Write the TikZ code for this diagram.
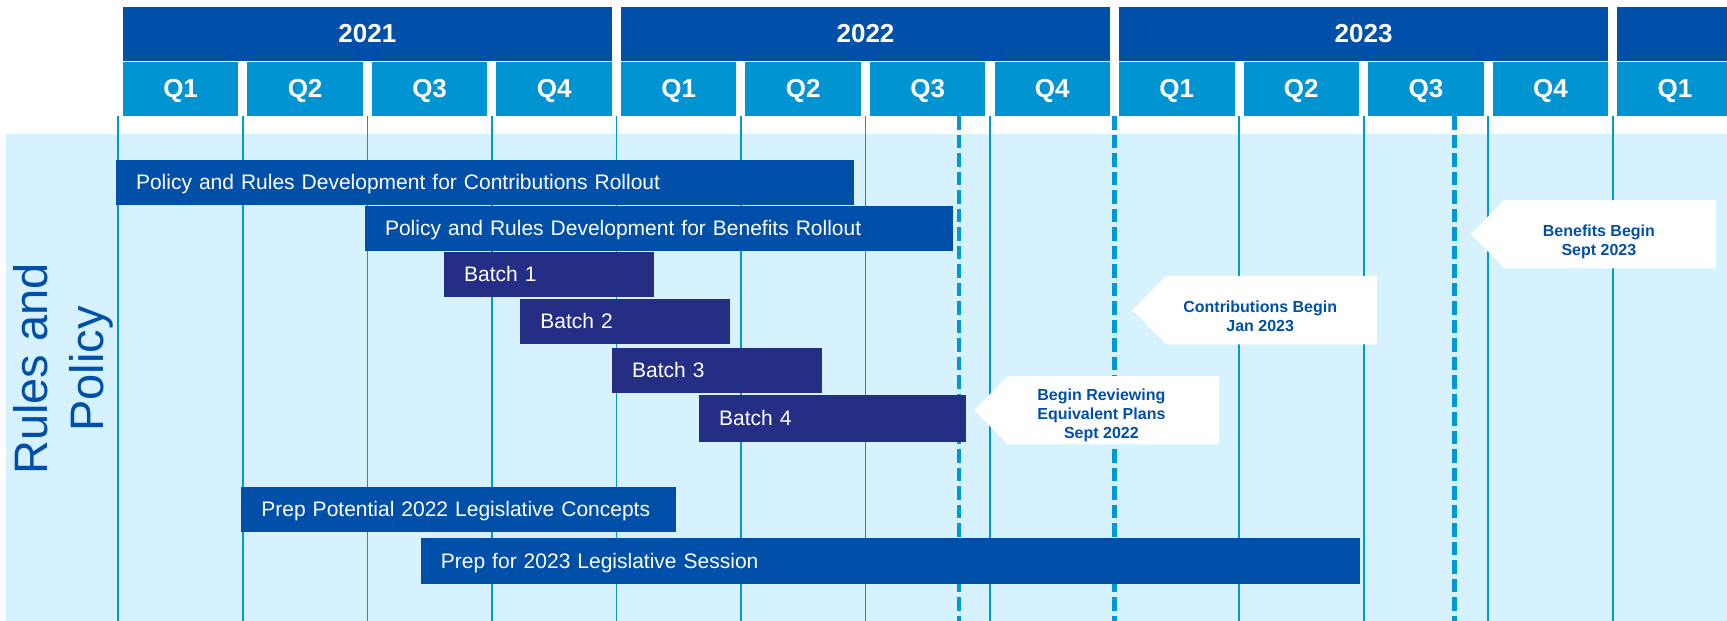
\documentclass[tikz,border=0pt]{standalone}
\usepackage{fontspec}
\setmainfont{Liberation Sans}
\definecolor{yearblue}{RGB}{0,79,168}
\definecolor{qblue}{RGB}{0,148,210}
\definecolor{bandblue}{RGB}{214,242,254}
\definecolor{gridblue}{RGB}{0,152,214}
\definecolor{batchblue}{RGB}{36,46,132}
\begin{document}
\begin{tikzpicture}[x=1pt, y=-1pt,
    yearstyle/.style={rectangle, fill=yearblue, text=white, font=\bfseries\fontsize{26}{30}\selectfont, minimum width=489pt, minimum height=54pt, inner sep=0pt},
    quarterstyle/.style={rectangle, fill=qblue, text=white, font=\bfseries\fontsize{26}{30}\selectfont, minimum width=115.5pt, minimum height=53.7pt, inner sep=0pt, text depth=0pt},
    barstyle/.style={rectangle, fill=yearblue, text=white, font=\fontsize{21}{25}\selectfont, anchor=west, align=left, inner xsep=20pt, inner ysep=0pt, text height=15pt, text depth=0pt, minimum height=44.7pt},
    batchstyle/.style={barstyle, fill=batchblue},
    notestyle/.style={text=yearblue, font=\bfseries\fontsize{16}{19}\selectfont, align=center, inner sep=0pt},
    gridline/.style={gridblue, line width=1.8pt},
    dateline/.style={gridblue, line width=4.5pt, dash pattern=on 13.5pt off 5pt}
]
    \useasboundingbox (0,0) rectangle (1727,621);
    \clip (0,0) rectangle (1727,621);

    \fill[bandblue] (6,134) rectangle (1727,621);

    \draw[gridline] (118.3,115.7) -- (118.3,621) (242.8,115.7) -- (242.8,621)
        (367.4,115.7) -- (367.4,621) (491.9,115.7) -- (491.9,621)
        (616.4,115.7) -- (616.4,621) (741,115.7) -- (741,621)
        (865.5,115.7) -- (865.5,621) (990,115.7) -- (990,621)
        (1239.1,115.7) -- (1239.1,621) (1363.6,115.7) -- (1363.6,621)
        (1488.1,115.7) -- (1488.1,621) (1612.7,115.7) -- (1612.7,621);
    \draw[dateline] (959,116) -- (959,621) (1114.5,116) -- (1114.5,621) (1454.5,116) -- (1454.5,621);

    \node[yearstyle] (yr2021) at (367.4,33.7) {2021};
    \node[yearstyle] (yr2022) at (865.5,33.7) {2022};
    \node[yearstyle] (yr2023) at (1363.6,33.7) {2023};
    \node[yearstyle] (yr2024) at (1861.7,33.7) {};

    \node[quarterstyle] (q1) at (180.6,88.9) {Q1};
    \node[quarterstyle] (q2) at (305.1,88.9) {Q2};
    \node[quarterstyle] (q3) at (429.6,88.9) {Q3};
    \node[quarterstyle] (q4) at (554.2,88.9) {Q4};
    \node[quarterstyle] (q5) at (678.7,88.9) {Q1};
    \node[quarterstyle] (q6) at (803.2,88.9) {Q2};
    \node[quarterstyle] (q7) at (927.7,88.9) {Q3};
    \node[quarterstyle] (q8) at (1052.3,88.9) {Q4};
    \node[quarterstyle] (q9) at (1176.8,88.9) {Q1};
    \node[quarterstyle] (q10) at (1301.3,88.9) {Q2};
    \node[quarterstyle] (q11) at (1425.9,88.9) {Q3};
    \node[quarterstyle] (q12) at (1550.4,88.9) {Q4};
    \node[quarterstyle] (q13) at (1674.9,88.9) {Q1};

    \node[barstyle, text width=698.2pt] (bar1) at (115.8,182.2) {Policy and Rules Development for Contributions Rollout};
    \node[barstyle, text width=548.2pt] (bar2) at (364.8,228.3) {Policy and Rules Development for Benefits Rollout};
    \node[batchstyle, text width=169.7pt] (batch1) at (444,274.3) {Batch 1};
    \node[batchstyle, text width=169.7pt] (batch2) at (520.2,321.3) {Batch 2};
    \node[batchstyle, text width=170.1pt] (batch3) at (612,370.3) {Batch 3};
    \node[batchstyle, text width=227.1pt, minimum height=46.7pt] (batch4) at (698.9,418.3) {Batch 4};
    \node[barstyle, text width=394.8pt] (prep1) at (241.2,509.3) {Prep Potential 2022 Legislative Concepts};
    \node[barstyle, text width=898.6pt, minimum height=45.7pt] (prep2) at (420.7,560.8) {Prep for 2023 Legislative Session};

    \fill[white] (974.2,410.2) -- (1007.7,376) -- (1219.1,376) -- (1219.1,444.3) -- (1007.7,444.3) -- cycle;
    \fill[white] (1132.4,310.2) -- (1166,276) -- (1376.8,276) -- (1376.8,344.3) -- (1166,344.3) -- cycle;
    \fill[white] (1470.8,234.2) -- (1504.4,200) -- (1715.8,200) -- (1715.8,268.3) -- (1504.4,268.3) -- cycle;
    \node[notestyle] (ms1) at (1101.4,415.2) {Begin Reviewing\\Equivalent Plans\\Sept 2022};
    \node[notestyle] (ms2) at (1260.2,316) {Contributions Begin\\Jan 2023};
    \node[notestyle] (ms3) at (1598.9,241.5) {Benefits Begin\\Sept 2023};

    \node[text=yearblue, font=\fontsize{47}{56}\selectfont, align=center, rotate=90, inner sep=0pt] (lane) at (63.5,369) {Rules and\\Policy};
\end{tikzpicture}
\end{document}
